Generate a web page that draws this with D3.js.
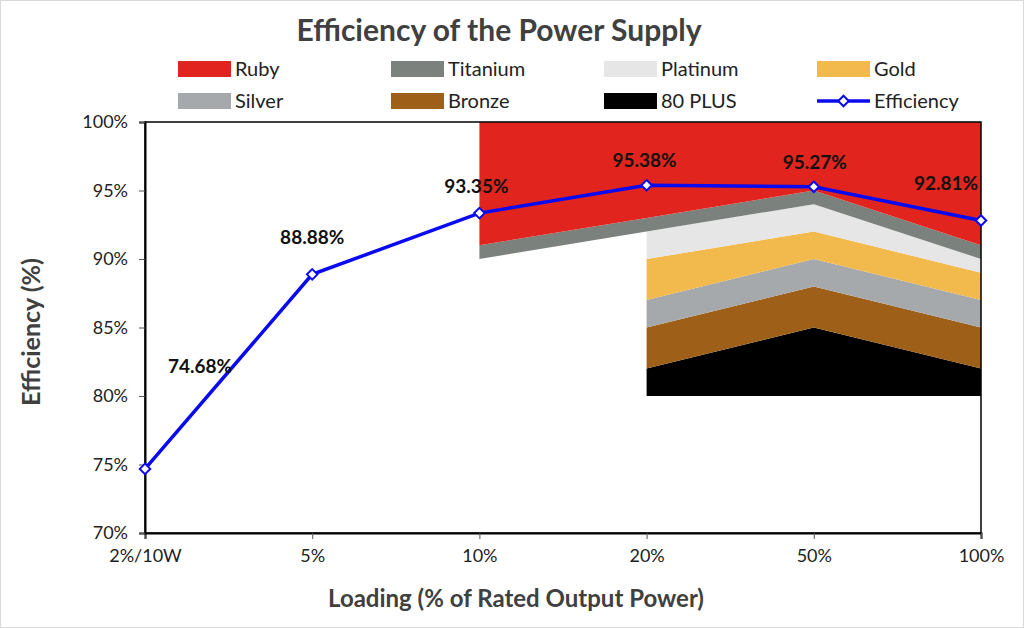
<!DOCTYPE html>
<html>
<head>
<meta charset="utf-8">
<script src="https://cdn.jsdelivr.net/npm/d3@7"></script>
<style>
  body { margin: 0; background: #fff; }
  svg { font-family: Lato, "Open Sans", sans-serif; }
</style>
</head>
<body>
<div class="container"></div>
<script>
// loading categories on the x axis
const categories = ["2%/10W", "5%", "10%", "20%", "50%", "100%"];
// measured efficiency of the supply
const efficiency = [74.68, 88.88, 93.35, 95.38, 95.27, 92.81];
const yTicks = [70, 75, 80, 85, 90, 95, 100];

// top edge of each 80 PLUS band (null = band not drawn there)
const plus80Top   = [null, null, null, 82, 85, 82];
const bronzeTop   = [null, null, null, 85, 88, 85];
const silverTop   = [null, null, null, 87, 90, 87];
const goldTop     = [null, null, null, 90, 92, 89];
const platinumTop = [null, null, 90, 92, 94, 90];
const titaniumTop = [null, null, 91, 93, 95, 91];
const rubyTop     = [null, null, 100, 100, 100, 100];
const bandBase    = 80;

const w = 1024;
const h = 628;
const plot = { left: 145, right: 981, top: 122, bottom: 533 };

const svg = d3.select(".container")
  .append("svg")
  .attr("width", w)
  .attr("height", h);

svg.append("rect")
  .attr("x", 0.5).attr("y", 0.5)
  .attr("width", w - 1).attr("height", h - 1)
  .attr("fill", "#fff")
  .attr("stroke", "#d9d9d9");

const xScale = d3.scalePoint()
  .domain(categories)
  .range([plot.left, plot.right])
  .padding(0);

const yScale = d3.scaleLinear()
  .domain([70, 100])
  .range([plot.bottom, plot.top]);

// bands, each from the previous band's top to its own top
const bands = [
  { name: "80 PLUS", top: plus80Top, low: null, color: "#000000" },
  { name: "Bronze", top: bronzeTop, low: plus80Top, color: "#9e6018" },
  { name: "Silver", top: silverTop, low: bronzeTop, color: "#a6a9ac" },
  { name: "Gold", top: goldTop, low: silverTop, color: "#f2b94c" },
  { name: "Platinum", top: platinumTop, low: goldTop, color: "#e6e6e7" },
  { name: "Titanium", top: titaniumTop, low: platinumTop, color: "#7b827e" },
  { name: "Ruby", top: rubyTop, low: titaniumTop, color: "#e1251e" }
];

const area = d3.area()
  .x(d => xScale(d.cat))
  .y0(d => yScale(d.low))
  .y1(d => yScale(d.top));

bands.forEach(b => {
  const pts = [];
  categories.forEach((c, i) => {
    const low = b.low === null ? (b.top[i] === null ? null : bandBase) : b.low[i];
    if (b.top[i] !== null && low !== null) {
      pts.push({ cat: c, low: low, top: b.top[i] });
    }
  });
  svg.append("path")
    .datum(pts)
    .attr("d", area)
    .attr("fill", b.color);
});

// plot frame
svg.append("rect")
  .attr("x", plot.left)
  .attr("y", plot.top)
  .attr("width", plot.right - plot.left)
  .attr("height", plot.bottom - plot.top)
  .attr("fill", "none")
  .attr("stroke", "#000")
  .attr("stroke-width", 1.5);

const xAxis = d3.axisBottom(xScale).tickSizeOuter(0).tickSize(6).tickPadding(10);
const yAxis = d3.axisLeft(yScale).tickValues(yTicks).tickSize(6).tickPadding(11)
  .tickFormat(d => d + "%");

const gx = svg.append("g")
  .attr("transform", "translate(0," + plot.bottom + ")")
  .call(xAxis);
const gy = svg.append("g")
  .attr("transform", "translate(" + plot.left + ",0)")
  .call(yAxis);

[gx, gy].forEach(g => {
  g.select(".domain").attr("stroke", "#000").attr("stroke-width", 2);
  g.selectAll(".tick line").attr("stroke", "#555");
  g.selectAll(".tick text").attr("font-size", 18).attr("fill", "#222")
    .attr("font-family", "Lato, sans-serif");
});

// efficiency line
const line = d3.line()
  .x((d, i) => xScale(categories[i]))
  .y(d => yScale(d));

svg.append("path")
  .datum(efficiency)
  .attr("d", line)
  .attr("fill", "none")
  .attr("stroke", "#0a0af0")
  .attr("stroke-width", 3.5);

const diamond = d3.symbol().type(d3.symbolDiamond2).size(70);

svg.selectAll(".marker")
  .data(efficiency)
  .join("path")
  .attr("class", "marker")
  .attr("d", diamond)
  .attr("transform", (d, i) => "translate(" + xScale(categories[i]) + "," + yScale(d) + ")")
  .attr("fill", "#fff")
  .attr("stroke", "#0a0af0")
  .attr("stroke-width", 2);

// label nudges (layout only)
const nudgeX = [55, 0, -3, -2, 1, -35];
const nudgeY = [-96, -30, -20, -18, -18, -31];

svg.selectAll(".dlabel")
  .data(efficiency)
  .join("text")
  .attr("class", "dlabel")
  .attr("x", (d, i) => xScale(categories[i]) + nudgeX[i])
  .attr("y", (d, i) => yScale(d) + nudgeY[i])
  .attr("text-anchor", "middle")
  .attr("font-size", 19)
  .attr("font-weight", "bold")
  .attr("fill", "#111")
  .text(d => d.toFixed(2) + "%");

// titles
svg.append("text")
  .attr("x", 499).attr("y", 41)
  .attr("text-anchor", "middle")
  .attr("font-size", 30)
  .attr("font-weight", "bold")
  .attr("fill", "#404040")
  .text("Efficiency of the Power Supply");

svg.append("text")
  .attr("x", 516).attr("y", 607)
  .attr("text-anchor", "middle")
  .attr("font-size", 24)
  .attr("font-weight", "bold")
  .attr("fill", "#404040")
  .text("Loading (% of Rated Output Power)");

svg.append("text")
  .attr("transform", "translate(40,332) rotate(-90)")
  .attr("text-anchor", "middle")
  .attr("font-size", 25)
  .attr("font-weight", "bold")
  .attr("fill", "#404040")
  .text("Efficiency (%)");

// legend
const legendOrder = ["Ruby", "Titanium", "Platinum", "Gold", "Silver", "Bronze", "80 PLUS", "Efficiency"];
const colX = [178, 391, 604, 817];
const rowY = [69, 101];

legendOrder.forEach((name, i) => {
  const x = colX[i % 4];
  const y = rowY[Math.floor(i / 4)];
  const g = svg.append("g");
  if (name === "Efficiency") {
    g.append("line")
      .attr("x1", x).attr("x2", x + 53)
      .attr("y1", y).attr("y2", y)
      .attr("stroke", "#0a0af0").attr("stroke-width", 3.5);
    g.append("path")
      .attr("d", diamond)
      .attr("transform", "translate(" + (x + 26.5) + "," + y + ")")
      .attr("fill", "#fff").attr("stroke", "#0a0af0").attr("stroke-width", 2);
  } else {
    const b = bands.find(d => d.name === name);
    g.append("rect")
      .attr("x", x).attr("y", y - 8)
      .attr("width", 53).attr("height", 16)
      .attr("fill", b.color);
  }
  g.append("text")
    .attr("x", x + 57).attr("y", y + 7)
    .attr("font-size", 20)
    .attr("fill", "#222")
    .text(name);
});
</script>
</body>
</html>
